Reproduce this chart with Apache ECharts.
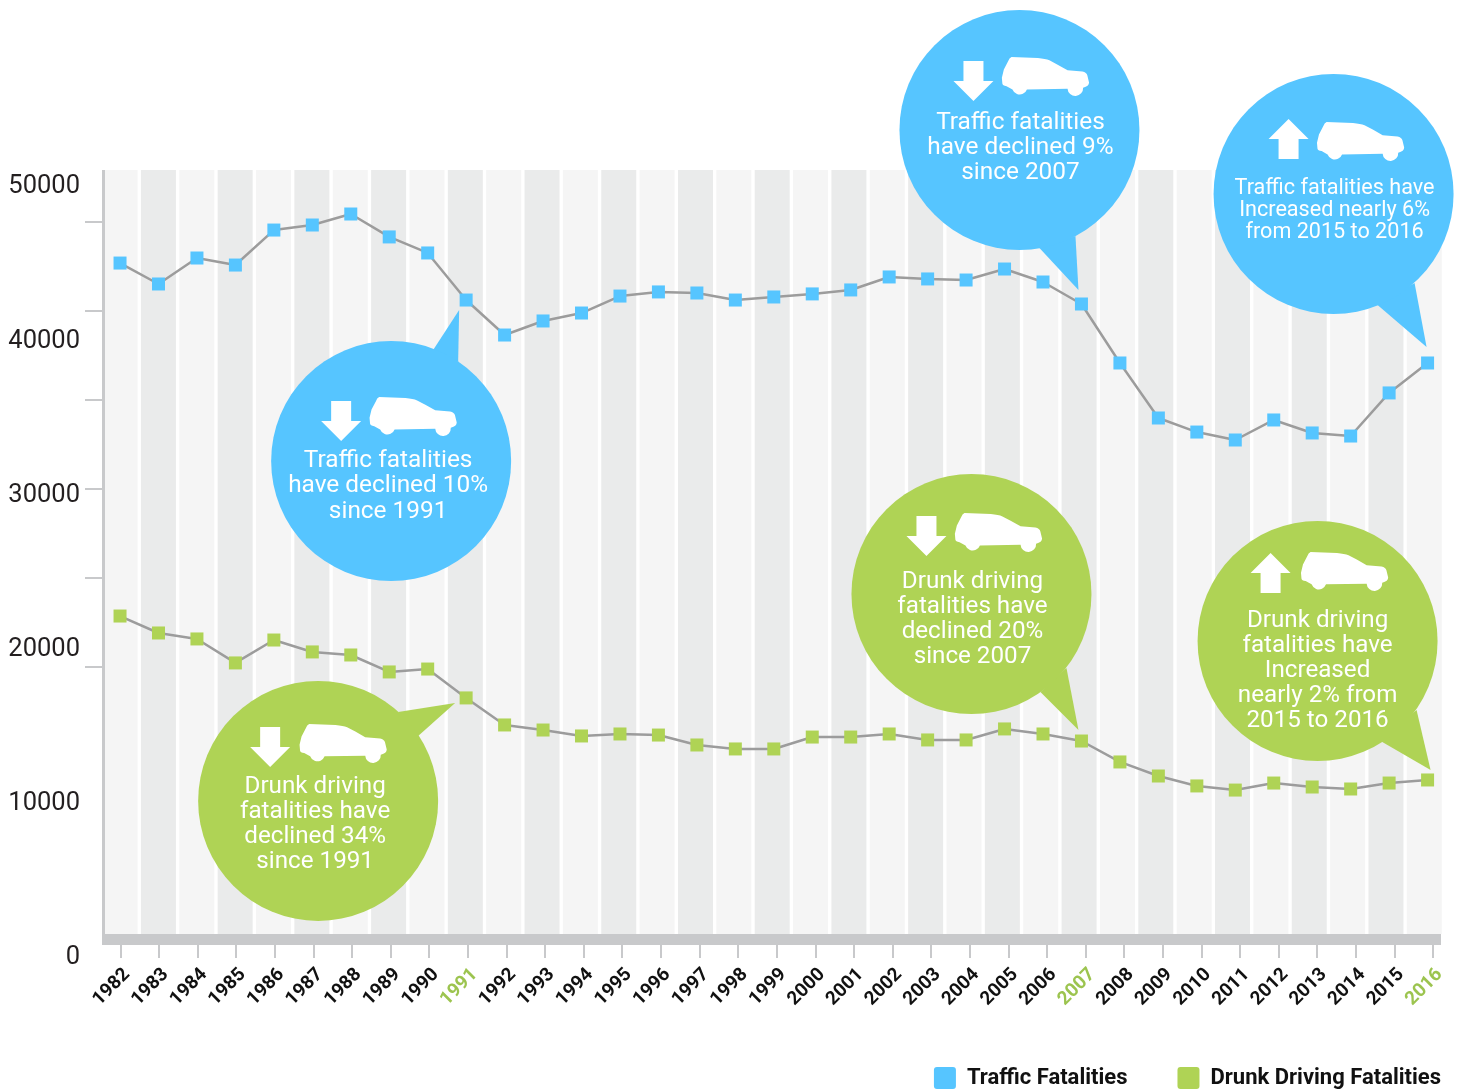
<!DOCTYPE html>
<html>
<head>
<meta charset="utf-8">
<style>html,body{margin:0;padding:0;background:#fff}#chart{width:1459px;height:1091px}</style>
<script src="https://cdn.jsdelivr.net/npm/echarts@6/dist/echarts.min.js"></script>
</head>
<body>
<div id="chart"></div>
<script>
const years = ['1982','1983','1984','1985','1986','1987','1988','1989','1990','1991','1992','1993','1994','1995','1996','1997','1998','1999','2000','2001','2002','2003','2004','2005','2006','2007','2008','2009','2010','2011','2012','2013','2014','2015','2016'];
const trafficFatalities = [43910,42540,44240,43780,46070,46400,47120,45620,44570,41490,39200,40120,40640,41750,42020,41950,41490,41690,41890,42150,43000,42870,42800,43520,42670,41230,37370,33770,32850,32330,33640,32790,32590,35410,37370];
const drunkFatalities = [20810,19700,19310,17740,19240,18460,18260,17150,17340,15450,13680,13350,12960,13090,13020,12370,12110,12110,12890,12890,13090,12700,12700,13420,13090,12630,11260,10340,9690,9420,9880,9620,9490,9880,10080];
const yLabels = ['0','10000','20000','30000','40000','50000'];
const highlightYears = ['1991','2007','2016'];
const BLUE = '#56c5ff', GREEN = '#afd355', AXIS = '#c8c9cb', LINE = '#9c9c9c';
const yMax = 50000;
const bandHeights = years.map(() => yMax);

// Each callout points at one data point; offsets are relative to that point.
const callouts = [
  {year:'1991', series:'traffic', dx:-75, dy:161, color:BLUE, up:false, lines:'Traffic fatalities\nhave declined 10%\nsince 1991', tail:[[42,-111],[68,-151],[67,-99]], textDx:-3, textDy:23, arrowDx:-50, arrowDy:-60, carDx:-22, carDy:-64, font:24.4, lh:25.5},
  {year:'2007', series:'traffic', dx:-62, dy:-174, color:BLUE, up:false, lines:'Traffic fatalities\nhave declined 9%\nsince 2007', tail:[[20,118],[59,160],[56,106]], textDx:1, textDy:16, arrowDx:-46, arrowDy:-69, carDx:-18, carDy:-73, font:24.4, lh:25},
  {year:'2016', series:'traffic', dx:-94, dy:-169, color:BLUE, up:true, lines:'Traffic fatalities have\nIncreased nearly 6%\nfrom 2015 to 2016', tail:[[44,111],[93,153],[81,89]], textDx:1, textDy:15, arrowDx:-45, arrowDy:-75, carDx:-17, carDy:-72, font:21.6, lh:22},
  {year:'1991', series:'drunk', dx:-148, dy:103, color:GREEN, up:false, lines:'Drunk driving\nfatalities have\ndeclined 34%\nsince 1991', tail:[[80,-89],[137,-98],[100,-65]], textDx:-3, textDy:21.5, arrowDx:-48, arrowDy:-74, carDx:-19, carDy:-77, font:24.2, lh:25},
  {year:'2007', series:'drunk', dx:-110, dy:-147, color:GREEN, up:false, lines:'Drunk driving\nfatalities have\ndeclined 20%\nsince 2007', tail:[[69,98],[107,136],[95,74]], textDx:1, textDy:23.5, arrowDx:-45, arrowDy:-78, carDx:-17, carDy:-81, font:24.2, lh:25},
  {year:'2016', series:'drunk', dx:-110, dy:-139, color:GREEN, up:true, lines:'Drunk driving\nfatalities have\nIncreased\nnearly 2% from\n2015 to 2016', tail:[[63,100],[113,129],[99,69]], textDx:0, textDy:28, arrowDx:-47, arrowDy:-88, carDx:-17, carDy:-89, font:24.2, lh:25.2}
];
const carPath = 'M9.7 0.3L36.3 1.3Q44 2 48 3.7L56.3 8L66.3 13.7L81.3 15Q85.5 16 86.3 19L88 26Q88 29.7 82 31.3A7.8 7.8 0 0 1 66.3 32.3L25.3 33A7.8 7.8 0 0 1 10.7 33L4.7 29.7Q0.7 29 0.5 27L0 21.3L2 13L6.3 4.7Q7.5 1 9.7 0.3Z';
const legendIcon = 'path://M3 0H19Q22 0 22 3V19Q22 22 19 22H3Q0 22 0 19V3Q0 0 3 0Z';
const FONT = 'Roboto, sans-serif';

function arrowPoints(up) {
  // 40 x 40 block arrow centred on x = 0, pointing down or up
  const d = [[-10,0],[10,0],[10,20],[20,20],[0,40],[-20,20],[-10,20]];
  return up ? d.map(p => [p[0], 40 - p[1]]) : d;
}

function renderCallout(params, api) {
  const c = callouts[params.dataIndex];
  const p = api.coord([api.value(0), api.value(1)]);
  const cx = p[0] + c.dx, cy = p[1] + c.dy;
  return {
    type:'group', x:cx, y:cy,
    children:[
      {type:'polygon', shape:{points:c.tail}, style:{fill:c.color}},
      {type:'circle', shape:{cx:0, cy:0, r:120}, style:{fill:c.color}},
      {type:'polygon', x:c.arrowDx, y:c.arrowDy, shape:{points:arrowPoints(c.up)}, style:{fill:'#fff'}},
      {type:'path', shape:{pathData:carPath, x:c.carDx, y:c.carDy, width:88, height:39}, style:{fill:'#fff'}},
      {type:'text', x:c.textDx, y:c.textDy + 2, style:{text:c.lines, fill:'#fff', font:c.font+'px '+FONT, align:'center', verticalAlign:'middle', lineHeight:c.lh}}
    ]
  };
}

const chart = echarts.init(document.getElementById('chart'), null, {renderer:'canvas'});
chart.setOption({
  animation:false,
  backgroundColor:'#fff',
  legend:{
    right:13, top:1062, itemWidth:22, itemHeight:22, itemGap:50, icon:legendIcon,
    data:['Traffic Fatalities','Drunk Driving Fatalities'],
    textStyle:{fontFamily:FONT, fontWeight:'bold', fontSize:22, color:'#111', padding:[0,0,3,6]}
  },
  grid:[
    {left:100.8, width:1346, top:170, height:764},   // plot
    {left:102, width:1339, top:170, height:769.5},   // frame lines
    {left:101, width:1351.3, top:170, height:775},   // year ticks and labels
    {left:102, width:100, top:222, height:445},      // left tick marks
    {left:102, width:100, top:187, height:771},      // value labels
    {left:100.9, width:1342.6, top:170, height:764}  // background bands
  ],
  xAxis:[
    {gridIndex:0, type:'category', data:years, axisLine:{show:false}, axisTick:{show:false}, axisLabel:{show:false}},
    {gridIndex:1, type:'value', z:4, min:0, max:1, axisLine:{show:true, lineStyle:{color:AXIS, width:11, cap:'butt'}}, axisTick:{show:false}, axisLabel:{show:false}, splitLine:{show:false}},
    {gridIndex:2, type:'category', data:years, z:4, axisLine:{show:false},
      axisTick:{show:true, alignWithLabel:true, length:13, lineStyle:{color:AXIS, width:2}},
      axisLabel:{show:true, interval:0, rotate:45, margin:20, verticalAlign:'top', fontFamily:FONT, fontWeight:'bold', fontSize:19,
        color:(v)=> highlightYears.includes(v) ? '#9cc44f' : '#111'}},
    {gridIndex:3, type:'value', show:false, min:0, max:1},
    {gridIndex:4, type:'value', show:false, min:0, max:1},
    {gridIndex:5, type:'category', data:years, show:false}
  ],
  yAxis:[
    {gridIndex:0, type:'value', min:0, max:yMax, show:false},
    {gridIndex:1, type:'value', z:4, min:0, max:1, offset:-1.5, axisLine:{show:true, lineStyle:{color:AXIS, width:3, cap:'butt'}}, axisTick:{show:false}, axisLabel:{show:false}, splitLine:{show:false}},
    {gridIndex:2, type:'value', min:0, max:1, show:false},
    {gridIndex:3, type:'value', min:0, max:5, interval:1, axisLine:{show:false}, axisTick:{show:true, length:17, lineStyle:{color:AXIS, width:2}}, axisLabel:{show:false}, splitLine:{show:false}},
    {gridIndex:4, type:'category', data:yLabels, boundaryGap:false, axisLine:{show:false}, axisTick:{show:false},
      axisLabel:{show:true, interval:0, margin:22, fontFamily:FONT, fontSize:25.5, color:'#231f20'}},
    {gridIndex:5, type:'value', min:0, max:yMax, show:false}
  ],
  series:[
    {type:'bar', name:'bands', xAxisIndex:5, yAxisIndex:5, data:bandHeights, barWidth:35, silent:true, z:1,
      itemStyle:{color:(p)=> p.dataIndex % 2 ? '#eaebeb' : '#f5f5f5'}},
    {type:'line', name:'Traffic Fatalities', xAxisIndex:0, yAxisIndex:0, data:trafficFatalities, z:3,
      symbol:'rect', symbolSize:13, itemStyle:{color:BLUE}, lineStyle:{color:LINE, width:2.5}},
    {type:'line', name:'Drunk Driving Fatalities', xAxisIndex:0, yAxisIndex:0, data:drunkFatalities, z:3,
      symbol:'rect', symbolSize:13, itemStyle:{color:GREEN}, lineStyle:{color:LINE, width:2.5}},
    {type:'custom', name:'callouts', xAxisIndex:0, yAxisIndex:0, z:5, silent:true, clip:false,
      renderItem:renderCallout,
      encode:{x:0, y:1},
      data:callouts.map(c => [c.year, (c.series === 'traffic' ? trafficFatalities : drunkFatalities)[years.indexOf(c.year)]])}
  ]
});
</script>
</body>
</html>
